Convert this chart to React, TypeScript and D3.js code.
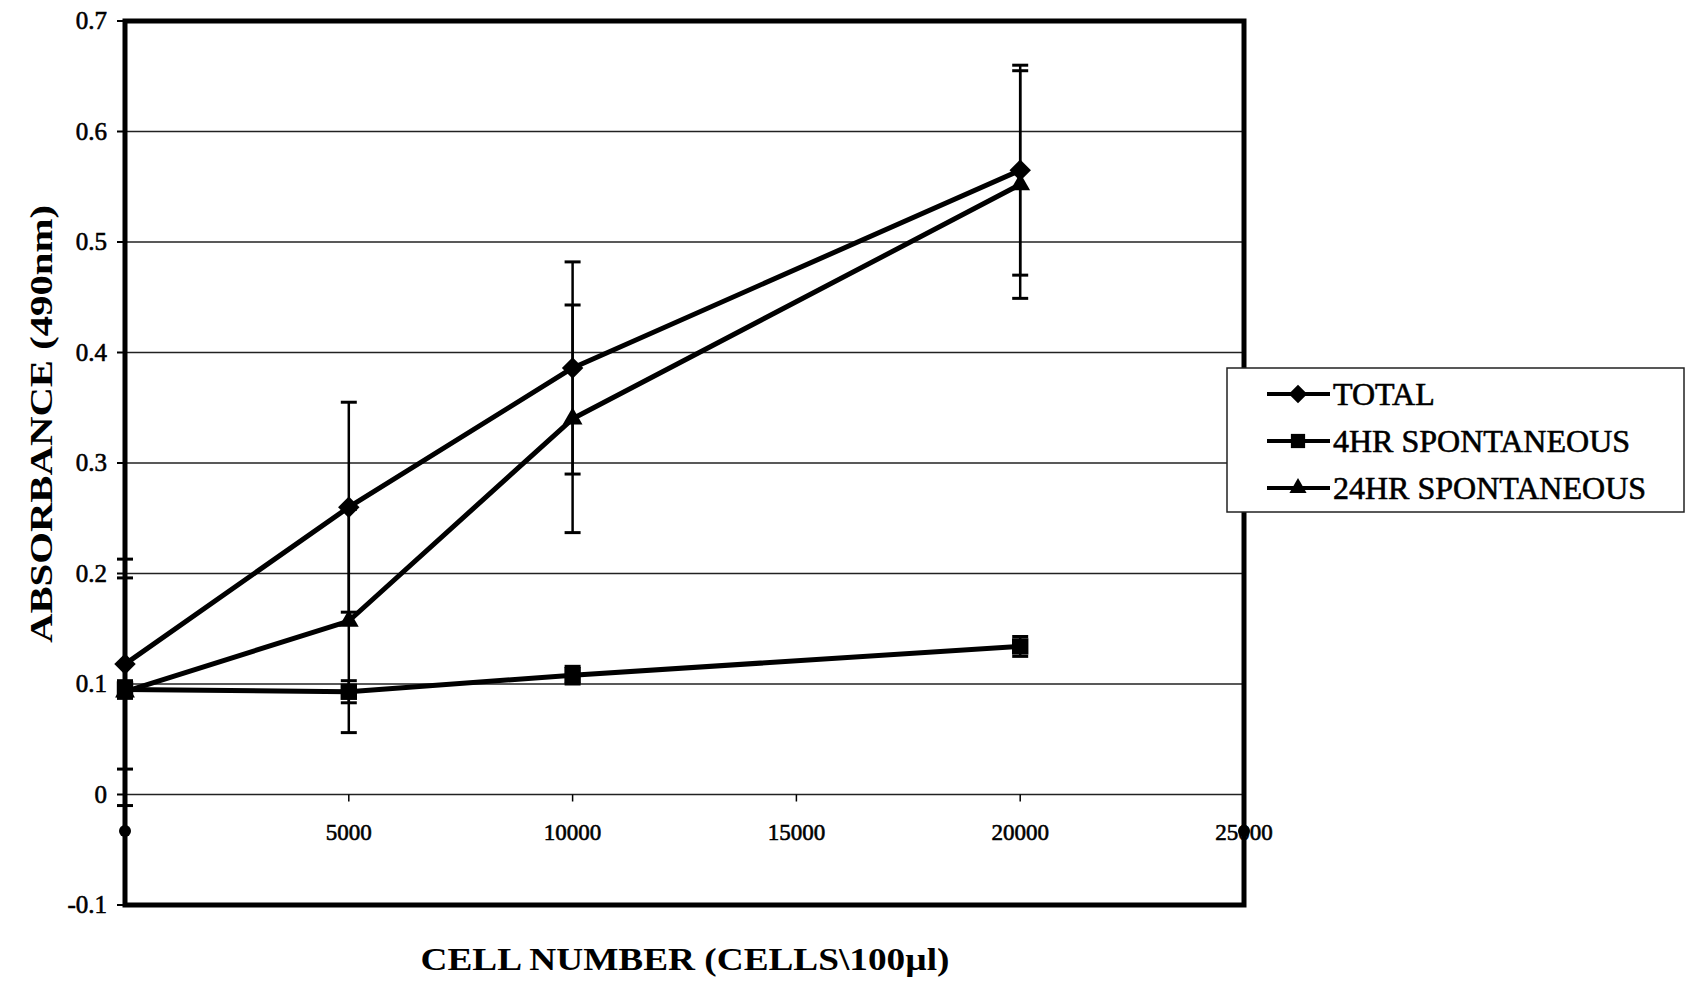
import React, { useRef, useEffect } from 'react';
import * as d3 from 'd3';

// cell number (cells per 100 µl) and absorbance readings
const cellNumbers = [0, 5000, 10000, 20000];
const totalMean = [0.118, 0.26, 0.386, 0.565];
const totalErr = [0.095, 0.095, 0.096, 0.095];
const hr4Mean = [0.095, 0.093, 0.108, 0.134];
const hr4Err = [0.008, 0.01, 0.008, 0.009];
const hr24Mean = [0.093, 0.157, 0.34, 0.552];
const hr24Err = [0.103, 0.101, 0.103, 0.103];

const seriesNames = ['TOTAL', '4HR SPONTANEOUS', '24HR SPONTANEOUS'];
const yTicks = [-0.1, 0, 0.1, 0.2, 0.3, 0.4, 0.5, 0.6, 0.7];
const yTickLabels = ['-0.1', '0', '0.1', '0.2', '0.3', '0.4', '0.5', '0.6', '0.7'];
const xTicks = [5000, 10000, 15000, 20000, 25000];

export default function App() {
  const ref = useRef<SVGSVGElement>(null);

  useEffect(() => {
    const svg = d3.select(ref.current);
    svg.selectAll('*').remove();

    const width = 1688;
    const height = 981;
    const left = 125, right = 1244, top = 21, bottom = 905;
    const font = '"Liberation Serif", "Times New Roman", serif';

    const x = d3.scaleLinear().domain([0, 25000]).range([left, right]);
    const y = d3.scaleLinear().domain([-0.1, 0.7]).range([bottom, top]);

    svg.attr('width', width).attr('height', height);
    svg.append('rect').attr('width', width).attr('height', height).attr('fill', '#fff');

    // gridlines
    svg.append('g')
      .selectAll('line')
      .data(yTicks.filter(t => t > -0.1 && t < 0.7))
      .enter().append('line')
      .attr('x1', left).attr('x2', right)
      .attr('y1', d => y(d)).attr('y2', d => y(d))
      .attr('stroke', '#222').attr('stroke-width', 1.5);

    // y ticks + labels
    const yAxis = svg.append('g');
    yAxis.selectAll('line')
      .data(yTicks).enter().append('line')
      .attr('x1', left - 8).attr('x2', left)
      .attr('y1', d => y(d)).attr('y2', d => y(d))
      .attr('stroke', '#000').attr('stroke-width', 2);
    yAxis.selectAll('text')
      .data(yTicks).enter().append('text')
      .attr('x', 107).attr('y', d => y(d) + 8)
      .attr('text-anchor', 'end')
      .attr('stroke', '#000').attr('stroke-width', 0.6)
      .style('font-family', font).style('font-size', '25px')
      .text((d, i) => yTickLabels[i]);

    // x ticks on the zero line + labels
    const xAxis = svg.append('g');
    xAxis.selectAll('line')
      .data(xTicks).enter().append('line')
      .attr('x1', d => x(d)).attr('x2', d => x(d))
      .attr('y1', y(0)).attr('y2', y(0) + 7)
      .attr('stroke', '#000').attr('stroke-width', 1.5);
    xAxis.selectAll('text')
      .data(xTicks).enter().append('text')
      .attr('x', d => x(d)).attr('y', 840)
      .attr('text-anchor', 'middle')
      .attr('stroke', '#000').attr('stroke-width', 0.6)
      .style('font-family', font).style('font-size', '23px')
      .text(d => String(d));
    xAxis.selectAll('circle')
      .data([0, 25000]).enter().append('circle')
      .attr('cx', d => x(d)).attr('cy', 831).attr('r', 6)
      .attr('fill', '#000');

    // diamond drawn as a square turned 45 degrees
    const series = [
      { name: seriesNames[0], mean: totalMean, err: totalErr, shape: d3.symbolSquare, size: 230, rot: 45 },
      { name: seriesNames[1], mean: hr4Mean, err: hr4Err, shape: d3.symbolSquare, size: 270, rot: 0 },
      { name: seriesNames[2], mean: hr24Mean, err: hr24Err, shape: d3.symbolTriangle, size: 170, rot: 0 },
    ];

    const line = d3.line<number>()
      .x((_, i) => x(cellNumbers[i]))
      .y(d => y(d));

    series.forEach(s => {
      svg.append('path')
        .attr('d', line(s.mean))
        .attr('fill', 'none').attr('stroke', '#000')
        .attr('stroke-width', 5).attr('stroke-linejoin', 'round');
    });

    // error bars
    series.forEach(s => {
      const g = svg.append('g');
      s.mean.forEach((m, i) => {
        const cx = x(cellNumbers[i]);
        const hi = y(m + s.err[i]);
        const lo = y(m - s.err[i]);
        g.append('line').attr('x1', cx).attr('x2', cx).attr('y1', hi).attr('y2', lo)
          .attr('stroke', '#000').attr('stroke-width', 2.5);
        [hi, lo].forEach(yy => {
          g.append('line').attr('x1', cx - 8).attr('x2', cx + 8).attr('y1', yy).attr('y2', yy)
            .attr('stroke', '#000').attr('stroke-width', 3);
        });
      });
    });

    // markers
    series.forEach(s => {
      svg.append('g').selectAll('path')
        .data(s.mean).enter().append('path')
        .attr('d', d3.symbol().type(s.shape).size(s.size)())
        .attr('transform', (d, i) => `translate(${x(cellNumbers[i])},${y(d)}) rotate(${s.rot})`)
        .attr('fill', '#000');
    });

    // plot frame
    svg.append('rect')
      .attr('x', left).attr('y', top)
      .attr('width', right - left).attr('height', bottom - top)
      .attr('fill', 'none').attr('stroke', '#000').attr('stroke-width', 5);

    // legend
    const legend = svg.append('g');
    legend.append('rect')
      .attr('x', 1227).attr('y', 368).attr('width', 457).attr('height', 144)
      .attr('fill', '#fff').attr('stroke', '#222').attr('stroke-width', 1.5);
    series.forEach((s, i) => {
      const ly = 394 + i * 47;
      legend.append('line').attr('x1', 1267).attr('x2', 1330).attr('y1', ly).attr('y2', ly)
        .attr('stroke', '#000').attr('stroke-width', 4);
      legend.append('path')
        .attr('d', d3.symbol().type(s.shape).size(s.size * 0.75)())
        .attr('transform', `translate(1298,${ly}) rotate(${s.rot})`)
        .attr('fill', '#000');
      legend.append('text')
        .attr('x', 1333).attr('y', ly + 11)
        .attr('stroke', '#000').attr('stroke-width', 0.6)
        .style('font-family', font).style('font-size', '32px')
        .text(s.name);
    });

    // axis titles
    svg.append('text')
      .attr('transform', 'translate(52,424) rotate(-90)')
      .attr('text-anchor', 'middle')
      .attr('textLength', 438).attr('lengthAdjust', 'spacingAndGlyphs')
      .style('font-family', font).style('font-size', '32px').style('font-weight', 'bold')
      .text('ABSORBANCE (490nm)');
    svg.append('text')
      .attr('x', 685).attr('y', 970)
      .attr('text-anchor', 'middle')
      .attr('textLength', 529).attr('lengthAdjust', 'spacingAndGlyphs')
      .style('font-family', font).style('font-size', '32px').style('font-weight', 'bold')
      .text('CELL NUMBER (CELLS\\100\u00b5l)');
  }, []);

  return <svg ref={ref} style={{ position: 'absolute', left: 0, top: 0, display: 'block' }}></svg>;
}
